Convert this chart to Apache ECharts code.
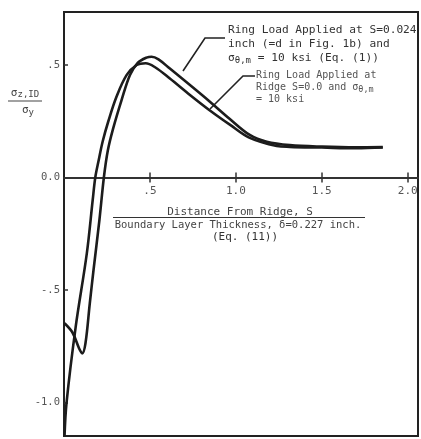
<!DOCTYPE html>
<html>
<head>
<meta charset="utf-8">
<script src="https://cdn.jsdelivr.net/npm/echarts@6/dist/echarts.min.js"></script>
<style>
html,body{margin:0;padding:0;background:#fff;}
#c{width:421px;height:439px;}
</style>
</head>
<body>
<div id="c"></div>
<script>
// Curve: Ring load applied at S=0.024 inch
const xA = [0.003,0.05,0.088,0.106,0.125,0.15,0.172,0.206,0.232,0.255,0.285,0.335,0.384,0.43,0.48,0.51,0.55,0.616,0.733,0.849,0.965,1.081,1.18,1.314,1.5,1.7,1.855];
const yA = [-0.648,-0.69,-0.76,-0.782,-0.737,-0.56,-0.41,-0.19,0.0,0.12,0.215,0.344,0.456,0.51,0.533,0.537,0.525,0.484,0.411,0.337,0.26,0.189,0.159,0.144,0.137,0.134,0.135];
// Curve: Ring load applied at ridge S=0.0
const xB = [0.003,0.015,0.068,0.133,0.167,0.182,0.2,0.225,0.258,0.306,0.365,0.423,0.475,0.53,0.616,0.733,0.849,0.965,1.081,1.238,1.314,1.5,1.7,1.855];
const yB = [-1.15,-1.0,-0.664,-0.336,-0.1,0.0,0.07,0.16,0.25,0.36,0.456,0.5,0.508,0.49,0.44,0.367,0.298,0.235,0.176,0.14,0.136,0.133,0.13,0.133];
// Tick labels
const xTicks = [0.5, 1.0, 1.5, 2.0];
const xTickLabels = ['.5', '1.0', '1.5', '2.0'];
const yTicks = [-1.0, -0.5, 0.0, 0.5];
const yTickLabels = ['-1.0', '-.5', '0.0', '.5'];

const xMin = 0, xMax = 2.06, yMin = -1.149, yMax = 0.7356;
const mono = '"DejaVu Sans Mono", monospace';
const chart = echarts.init(document.getElementById('c'));
const zip = (xs, ys) => xs.map((x, i) => [x, ys[i]]);
const lineCol = '#1c1c1c';
const fmt = (ticks, labels) => v => { const i = ticks.findIndex(t => Math.abs(t - v) < 1e-6); return i >= 0 ? labels[i] : ''; };
const plotH = 424, plotTop = 12;
const zeroY = plotTop + plotH * (yMax - 0) / (yMax - yMin);

chart.setOption({
  backgroundColor: '#ffffff',
  animation: false,
  grid: [
    { left: 64, top: plotTop, right: 3, height: plotH, show: true, borderColor: '#222', borderWidth: 2, backgroundColor: 'transparent', outerBoundsMode: 'none', containLabel: false },
    { left: 64, top: plotTop, right: 3, height: zeroY - plotTop, show: false, outerBoundsMode: 'none', containLabel: false }
  ],
  xAxis: [{
    gridIndex: 0, type: 'value', min: xMin, max: xMax,
    axisLine: { show: false }, axisTick: { show: false }, axisLabel: { show: false }, splitLine: { show: false }
  }, {
    gridIndex: 1, type: 'value', min: xMin, max: xMax, position: 'bottom',
    axisLine: { show: true, onZero: false, lineStyle: { color: '#333', width: 2 } },
    axisTick: { show: true, inside: false, length: 5, customValues: xTicks, lineStyle: { color: '#333', width: 1.5 } },
    axisLabel: { show: true, customValues: xTicks, margin: 8, color: '#555', fontFamily: mono, fontSize: 11, formatter: fmt(xTicks, xTickLabels) },
    splitLine: { show: false }
  }, {
    gridIndex: 1, type: 'value', min: xMin, max: xMax, position: 'bottom',
    axisLine: { show: false, onZero: false },
    axisTick: { show: true, inside: true, length: 5, customValues: xTicks, lineStyle: { color: '#333', width: 1.5 } },
    axisLabel: { show: false }, splitLine: { show: false }
  }],
  yAxis: [{
    gridIndex: 0, type: 'value', min: yMin, max: yMax,
    axisLine: { show: true, onZero: false, lineStyle: { color: '#222', width: 2 } },
    axisTick: { show: true, inside: true, length: 4, customValues: yTicks, lineStyle: { color: '#333', width: 1.5 } },
    axisLabel: { show: true, customValues: yTicks, margin: 4, color: '#555', fontFamily: mono, fontSize: 10.5, formatter: fmt(yTicks, yTickLabels) },
    splitLine: { show: false }
  }, {
    gridIndex: 1, type: 'value', min: 0, max: 1, show: false
  }],
  series: [{
    type: 'line', name: 'S=0.024', xAxisIndex: 0, yAxisIndex: 0, data: zip(xA, yA), smooth: 0.35, showSymbol: false, clip: true,
    lineStyle: { color: lineCol, width: 2.6 }
  }, {
    type: 'line', name: 'S=0.0', xAxisIndex: 0, yAxisIndex: 0, data: zip(xB, yB), smooth: 0.35, showSymbol: false, clip: true,
    lineStyle: { color: lineCol, width: 2.6 }
  }],
  graphic: [
    // y-axis title (fraction)
    { type: 'text', x: 25, y: 93, style: { text: 'σ{s|z,ID}', rich: { s: { fontSize: 9, fontFamily: mono, fill: '#444', padding: [4, 0, 0, 0] } }, fontSize: 11, fontFamily: mono, fill: '#444', align: 'center', verticalAlign: 'middle' } },
    { type: 'line', shape: { x1: 8, y1: 101, x2: 42, y2: 101 }, style: { stroke: '#444', lineWidth: 1.2 } },
    { type: 'text', x: 28, y: 110, style: { text: 'σ{s|y}', rich: { s: { fontSize: 9, fontFamily: mono, fill: '#444', padding: [5, 0, 0, 0] } }, fontSize: 11, fontFamily: mono, fill: '#444', align: 'center', verticalAlign: 'middle' } },
    // x-axis title
    { type: 'text', x: 240, y: 212, style: { text: 'Distance From Ridge, S', fontSize: 11, fontFamily: mono, fill: '#444', align: 'center', verticalAlign: 'middle' } },
    { type: 'line', shape: { x1: 113, y1: 217.5, x2: 365, y2: 217.5 }, style: { stroke: '#333', lineWidth: 1.2 } },
    { type: 'text', x: 238, y: 225, style: { text: 'Boundary Layer Thickness, δ=0.227 inch.', fontSize: 10.5, fontFamily: mono, fill: '#444', align: 'center', verticalAlign: 'middle' } },
    { type: 'text', x: 245, y: 237, style: { text: '(Eq. (11))', fontSize: 11, fontFamily: mono, fill: '#333', align: 'center', verticalAlign: 'middle' } },
    // annotation 1
    { type: 'text', x: 228, y: 30, style: { text: 'Ring Load Applied at S=0.024', fontSize: 11.2, fontFamily: mono, fill: '#333', align: 'left', verticalAlign: 'middle' } },
    { type: 'text', x: 228, y: 44, style: { text: 'inch (=d in Fig. 1b) and', fontSize: 11.2, fontFamily: mono, fill: '#333', align: 'left', verticalAlign: 'middle' } },
    { type: 'text', x: 228, y: 58, style: { text: 'σ{s|θ,m} = 10 ksi (Eq. (1))', rich: { s: { fontSize: 9, fontFamily: mono, fill: '#333', padding: [5, 0, 0, 0] } }, fontSize: 11.2, fontFamily: mono, fill: '#333', align: 'left', verticalAlign: 'middle' } },
    { type: 'polyline', shape: { points: [[225, 38], [205, 38], [183, 71]] }, style: { stroke: '#222', lineWidth: 1.6, fill: null } },
    // annotation 2
    { type: 'text', x: 256, y: 75, style: { text: 'Ring Load Applied at', fontSize: 10, fontFamily: mono, fill: '#555', align: 'left', verticalAlign: 'middle' } },
    { type: 'text', x: 256, y: 87, style: { text: 'Ridge S=0.0 and σ{s|θ,m}', rich: { s: { fontSize: 8.5, fontFamily: mono, fill: '#555', padding: [5, 0, 0, 0] } }, fontSize: 10, fontFamily: mono, fill: '#555', align: 'left', verticalAlign: 'middle' } },
    { type: 'text', x: 256, y: 99, style: { text: '= 10 ksi', fontSize: 10, fontFamily: mono, fill: '#555', align: 'left', verticalAlign: 'middle' } },
    { type: 'polyline', shape: { points: [[255, 76], [243, 76], [210, 109]] }, style: { stroke: '#222', lineWidth: 1.6, fill: null } }
  ]
});
</script>
</body>
</html>
